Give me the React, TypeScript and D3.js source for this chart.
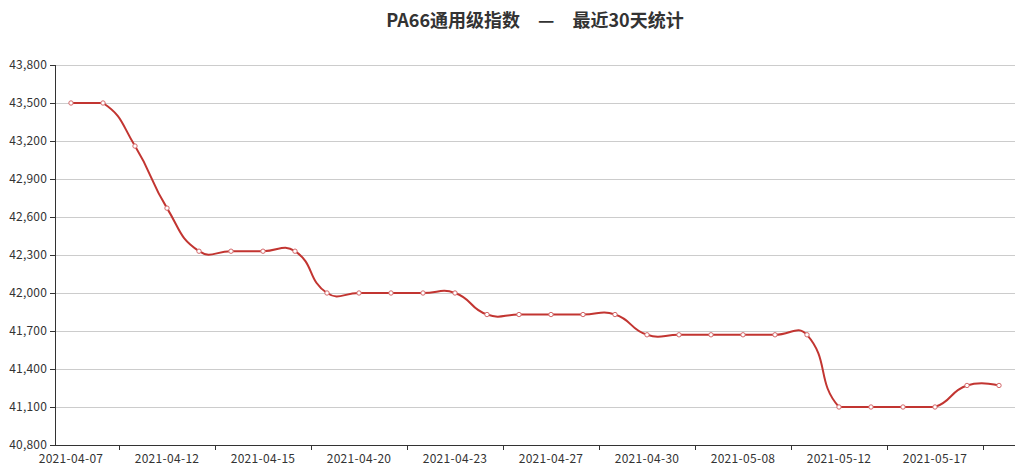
import * as d3 from 'd3'
import React from 'react'

const dates = [
    '2021-04-07', '2021-04-08', '2021-04-09', '2021-04-12', '2021-04-13', '2021-04-14',
    '2021-04-15', '2021-04-16', '2021-04-19', '2021-04-20', '2021-04-21', '2021-04-22',
    '2021-04-23', '2021-04-25', '2021-04-26', '2021-04-27', '2021-04-28', '2021-04-29',
    '2021-04-30', '2021-05-06', '2021-05-07', '2021-05-08', '2021-05-10', '2021-05-11',
    '2021-05-12', '2021-05-13', '2021-05-14', '2021-05-17', '2021-05-18', '2021-05-19',
]
const values = [
    43500, 43500, 43160, 42670, 42330, 42330,
    42330, 42330, 42000, 42000, 42000, 42000,
    42000, 41830, 41830, 41830, 41830, 41830,
    41670, 41670, 41670, 41670, 41670, 41670,
    41100, 41100, 41100, 41100, 41270, 41270,
]
const yTicks = [40800, 41100, 41400, 41700, 42000, 42300, 42600, 42900, 43200, 43500, 43800]
const titleText = 'PA66通用级指数　—　最近30天统计'

const width = 1019
const height = 471
const left = 55
const right = 1015
const top = 65
const bottom = 445
const lineColor = '#c23531'
const font = '"Noto Sans CJK SC", "Noto Sans", sans-serif'

// echarts-4 style smooth bezier (smooth = 0.5), control points kept inside the points' bbox
const smoothPath = (pts: [number, number][], smooth = 0.5): string => {
    const xs = pts.map((p) => p[0])
    const ys = pts.map((p) => p[1])
    const minX = d3.min(xs) as number
    const maxX = d3.max(xs) as number
    const minY = d3.min(ys) as number
    const maxY = d3.max(ys) as number
    const clamp = (p: [number, number]): [number, number] => [
        Math.min(maxX, Math.max(minX, p[0])),
        Math.min(maxY, Math.max(minY, p[1])),
    ]
    const cps: [number, number][] = []
    pts.forEach((p, i) => {
        if (i === 0 || i === pts.length - 1) {
            cps.push(p)
            return
        }
        const prev = pts[i - 1]
        const next = pts[i + 1]
        const vx = (next[0] - prev[0]) * smooth
        const vy = (next[1] - prev[1]) * smooth
        let d0 = Math.hypot(p[0] - prev[0], p[1] - prev[1])
        let d1 = Math.hypot(p[0] - next[0], p[1] - next[1])
        const sum = d0 + d1
        if (sum !== 0) {
            d0 /= sum
            d1 /= sum
        }
        cps.push(clamp([p[0] - vx * d0, p[1] - vy * d0]))
        cps.push(clamp([p[0] + vx * d1, p[1] + vy * d1]))
    })
    const path = d3.path()
    path.moveTo(pts[0][0], pts[0][1])
    for (let i = 1; i < pts.length; i++) {
        const c1 = cps[(i - 1) * 2]
        const c2 = cps[(i - 1) * 2 + 1]
        path.bezierCurveTo(c1[0], c1[1], c2[0], c2[1], pts[i][0], pts[i][1])
    }
    return path.toString()
}

const App = (): JSX.Element => {
    const x = d3.scaleBand<string>().domain(dates).range([left, right])
    const y = d3.scaleLinear().domain([40800, 43800]).range([bottom, top])
    const cx = (d: string) => (x(d) as number) + x.bandwidth() / 2

    const pts = dates.map((d, i) => [cx(d), y(values[i])] as [number, number])

    return (
        <svg
            width={width}
            height={height}
            style={{ position: 'absolute', left: 0, top: 0, background: '#fff' }}
            fontFamily={font}
        >
            <text
                x={(left + right) / 2}
                y={27}
                textAnchor="middle"
                fontSize={18}
                fontWeight="bold"
                fill="#333"
                style={{ whiteSpace: 'pre' }}
            >
                {titleText}
            </text>

            {/* grid lines */}
            {yTicks.slice(1).map((t) => (
                <line key={t} x1={left} x2={right} y1={y(t)} y2={y(t)} stroke="#ccc" strokeWidth={1} shapeRendering="crispEdges" />
            ))}

            {/* y axis */}
            <line x1={left} x2={left} y1={top} y2={bottom} stroke="#333" shapeRendering="crispEdges" />
            {yTicks.map((t) => (
                <g key={t}>
                    <line x1={left - 5} x2={left} y1={y(t)} y2={y(t)} stroke="#333" shapeRendering="crispEdges" />
                    <text x={left - 8} y={y(t)} dy="0.35em" textAnchor="end" fontSize={12} fill="#333" letterSpacing={0.2}>
                        {d3.format(',')(t)}
                    </text>
                </g>
            ))}

            {/* x axis */}
            <line x1={left} x2={right} y1={bottom} y2={bottom} stroke="#333" shapeRendering="crispEdges" />
            {dates.map((d, i) =>
                i % 3 === 2 ? (
                    <line key={d} x1={x(d)} x2={x(d)} y1={bottom} y2={bottom + 5} stroke="#333" shapeRendering="crispEdges" />
                ) : null,
            )}
            {dates.map((d, i) =>
                i % 3 === 0 ? (
                    <text key={d} x={cx(d)} y={bottom + 18} textAnchor="middle" fontSize={12} fill="#333" letterSpacing={0.3}>
                        {d}
                    </text>
                ) : null,
            )}

            {/* series */}
            <path d={smoothPath(pts)} fill="none" stroke={lineColor} strokeWidth={2} />
            {pts.map((p, i) => (
                <circle key={dates[i]} cx={p[0]} cy={p[1]} r={2.2} fill="#fff" stroke="#d4686a" strokeWidth={1} />
            ))}
        </svg>
    )
}

export default App
